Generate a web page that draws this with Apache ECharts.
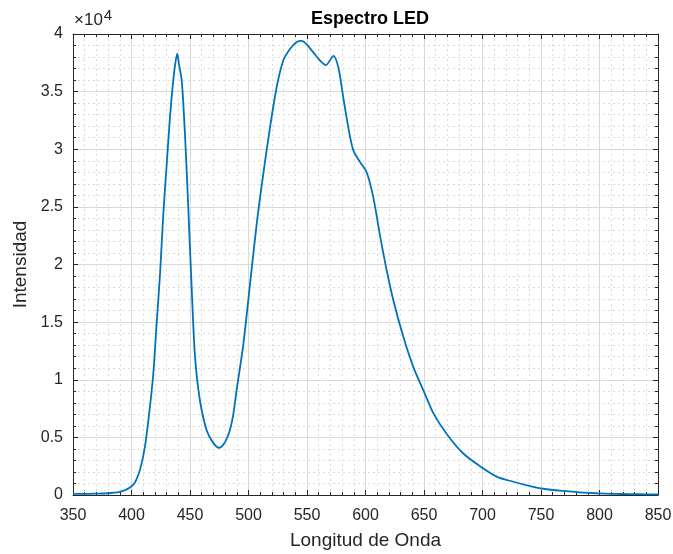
<!DOCTYPE html>
<html>
<head>
<meta charset="utf-8">
<script src="https://cdn.jsdelivr.net/npm/echarts@6/dist/echarts.min.js"></script>
<style>
  html, body { margin: 0; padding: 0; background: #fff; }
  #main { width: 673px; height: 554px; }
</style>
</head>
<body>
<div id="main"></div>
<script>
// longitud de onda (nm)
var wavelength = [350, 360, 370, 380, 385, 390, 395, 398, 401.5, 404, 407.3, 411.5, 415.8, 418.6,
  421.5, 424.4, 427.2, 430.1, 432.9, 435.7, 437.5, 439.1, 440.5, 442.9, 445.7, 448.5, 451.5,
  454.3, 458.5, 464.3, 470, 475, 480, 484, 487, 490, 495.6, 501.3, 507, 512.7, 518.4, 524.1,
  529.7, 535.5, 541.2, 545.5, 549.7, 555.4, 561.1, 566.2, 569.5, 572.5, 576.8, 581, 585.3,
  589.6, 595.3, 601, 606.7, 612.4, 618.1, 623.8, 632.4, 640.9, 649.4, 658, 669.4, 683.6,
  697.9, 712.1, 726.3, 740.6, 754.9, 769, 783.3, 797.6, 812, 826, 840, 850];
// intensidad (x10^4)
var intensity = [0.01, 0.01, 0.012, 0.015, 0.02, 0.028, 0.045, 0.06, 0.09, 0.13, 0.22, 0.42, 0.77, 1.05,
  1.49, 1.92, 2.44, 2.87, 3.28, 3.6, 3.75, 3.83, 3.74, 3.6, 3.13, 2.5, 1.78,
  1.2, 0.82, 0.56, 0.45, 0.41, 0.46, 0.56, 0.7, 0.92, 1.31, 1.83, 2.35, 2.79, 3.19, 3.54,
  3.77, 3.87, 3.93, 3.94, 3.91, 3.84, 3.77, 3.73, 3.77, 3.81, 3.71, 3.45, 3.19,
  2.99, 2.89, 2.80, 2.58, 2.25, 1.95, 1.69, 1.37, 1.11, 0.91, 0.71, 0.53, 0.36,
  0.25, 0.16, 0.115, 0.078, 0.05, 0.035, 0.023, 0.015, 0.01, 0.008, 0.006, 0.005];

var seriesData = wavelength.map(function (w, i) { return [w, intensity[i]]; });

var chart = echarts.init(document.getElementById('main'));
var textColor = '#262626';
var font = 'Liberation Sans, Arial, sans-serif';

function boxAxis(pos, min, max, interval, isMain) {
  return {
    type: 'value',
    position: pos,
    min: min,
    max: max,
    interval: interval,
    axisLine: { show: true, onZero: false, lineStyle: { color: '#262626', width: 1 } },
    axisTick: { show: true, inside: true, length: 5, lineStyle: { color: '#262626' } },
    minorTick: { show: true, splitNumber: 5, length: 3, lineStyle: { color: '#262626' } },
    axisLabel: { show: isMain, color: textColor, fontSize: 16, fontFamily: font, margin: 10 },
    splitLine: { show: isMain, lineStyle: { color: '#d9d9d9', width: 1 } },
    minorSplitLine: { show: isMain, lineStyle: { color: '#dcdcdc', type: [2, 3], width: 1 } }
  };
}

var xMain = boxAxis('bottom', 350, 850, 50, true);
xMain.axisLabel.margin = 13;
xMain.name = 'Longitud de Onda';
xMain.nameLocation = 'middle';
xMain.nameGap = 36;
xMain.nameTextStyle = { color: textColor, fontSize: 19, fontFamily: font };

var yMain = boxAxis('left', 0, 4, 0.5, true);
yMain.name = 'Intensidad';
yMain.nameLocation = 'middle';
yMain.nameGap = 42;
yMain.nameTextStyle = { color: textColor, fontSize: 19, fontFamily: font };

var option = {
  animation: false,
  backgroundColor: '#fff',
  title: {
    text: 'Espectro LED',
    left: 365,
    textAlign: 'center',
    top: 5,
    textStyle: { color: '#000', fontSize: 18, fontWeight: 'bold', fontFamily: font }
  },
  grid: { left: 73, right: 15, top: 34, bottom: 59, outerBoundsMode: 'none', containLabel: false },
  xAxis: [xMain, boxAxis('top', 350, 850, 50, false)],
  yAxis: [yMain, boxAxis('right', 0, 4, 0.5, false)],
  graphic: [{
    type: 'text',
    left: 74,
    top: 8,
    style: {
      text: '×10{s|4}',
      rich: { s: { fontSize: 15, fontFamily: font, fill: textColor, verticalAlign: 'top', padding: [0, 0, 10, 1] } },
      fill: textColor,
      fontSize: 17,
      fontFamily: font
    }
  }],
  series: [{
    type: 'line',
    xAxisIndex: 0,
    yAxisIndex: 0,
    data: seriesData,
    showSymbol: false,
    smooth: 0.3,
    lineStyle: { color: '#0072BD', width: 1.8 }
  }]
};

chart.setOption(option);
</script>
</body>
</html>
